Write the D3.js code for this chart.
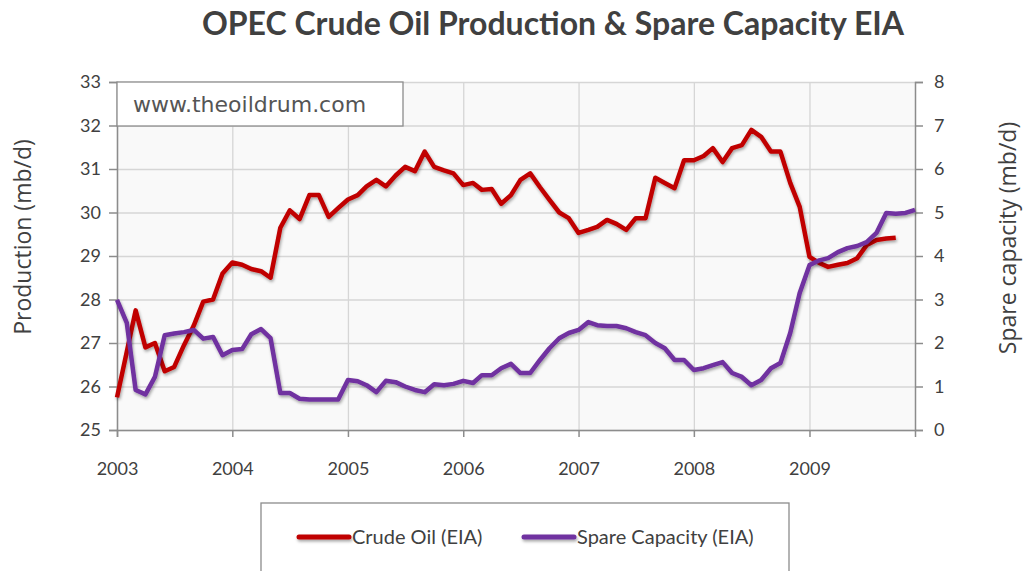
<!DOCTYPE html>
<html>
<head>
<meta charset="utf-8">
<script src="https://cdn.jsdelivr.net/npm/d3@7"></script>
<style>
  body { margin: 0; background: #fff; }
  svg text { font-family: Lato, "Open Sans", sans-serif; fill: #404040; }
</style>
</head>
<body>
<div id="chart"></div>
<script>
// monthly OPEC data, Jan 2003 onwards (mb/d)
var startMonth = new Date(2003, 0, 1);
var crudeOil = [25.75, 26.8, 27.75, 26.9, 27.0, 26.35, 26.45, 26.95, 27.4, 27.95, 28.0, 28.6,
    28.85, 28.8, 28.7, 28.65, 28.5, 29.65, 30.05, 29.85, 30.4, 30.4, 29.9, 30.1,
    30.3, 30.4, 30.6, 30.75, 30.6, 30.85, 31.05, 30.95, 31.4, 31.05, 30.97, 30.9,
    30.63, 30.68, 30.52, 30.54, 30.2, 30.4, 30.75, 30.9, 30.58, 30.29, 30.0, 29.87,
    29.53, 29.6, 29.67, 29.83, 29.74, 29.6, 29.87, 29.87, 30.8, 30.68, 30.56, 31.2,
    31.2, 31.3, 31.48, 31.16, 31.48, 31.55, 31.9, 31.74, 31.4, 31.4, 30.68, 30.13,
    28.98, 28.84, 28.75, 28.8, 28.84, 28.95, 29.25, 29.37, 29.4, 29.42];
var spareCapacity = [2.99, 2.46, 0.92, 0.82, 1.22, 2.18, 2.22, 2.25, 2.3, 2.1, 2.14, 1.72,
    1.84, 1.86, 2.2, 2.32, 2.11, 0.85, 0.85, 0.72, 0.7, 0.7, 0.7, 0.7,
    1.15, 1.12, 1.03, 0.87, 1.13, 1.1, 1.0, 0.92, 0.87, 1.05, 1.03, 1.06,
    1.13, 1.08, 1.26, 1.26, 1.42, 1.52, 1.31, 1.31, 1.61, 1.88, 2.11, 2.23,
    2.3, 2.48, 2.41, 2.39, 2.39, 2.34, 2.25, 2.18, 2.0, 1.88, 1.61, 1.61,
    1.38, 1.42, 1.49, 1.56, 1.31, 1.22, 1.03, 1.15, 1.42, 1.54, 2.23, 3.15,
    3.79, 3.9, 3.95, 4.09, 4.18, 4.23, 4.32, 4.53, 4.99, 4.97, 4.99, 5.06];
var yearLabels = [2003, 2004, 2005, 2006, 2007, 2008, 2009];
var productionTicks = [25, 26, 27, 28, 29, 30, 31, 32, 33];
var spareTicks = [0, 1, 2, 3, 4, 5, 6, 7, 8];
var seriesNames = ["Crude Oil (EIA)", "Spare Capacity (EIA)"];
var seriesColors = ["#c00000", "#7030a0"];

var width = 1027, height = 571;
var m = {left: 117, top: 82, right: 112, bottom: 141};
var pw = width - m.left - m.right, ph = height - m.top - m.bottom;

function monthDate(i) { return d3.timeMonth.offset(startMonth, i); }

// squeeze text to a measured width if the fallback font runs wider
function fitText(t, w) {
    if (t.node().getComputedTextLength() > w) t.attr("textLength", w).attr("lengthAdjust", "spacingAndGlyphs");
}

var svg = d3.select("#chart").append("svg").attr("width", width).attr("height", height);

var defs = svg.append("defs");
var shadow = defs.append("filter").attr("id", "shadow").attr("filterUnits", "userSpaceOnUse")
    .attr("x", -200).attr("y", -200).attr("width", 1400).attr("height", 900);
shadow.append("feDropShadow").attr("dx", 1).attr("dy", 2).attr("stdDeviation", 1.6)
    .attr("flood-color", "#000").attr("flood-opacity", 0.35);

var x = d3.scaleTime().domain([startMonth, monthDate(spareCapacity.length - 1)]).range([0, pw]);
var yL = d3.scaleLinear().domain([25, 33]).range([ph, 0]);
var yR = d3.scaleLinear().domain([0, 8]).range([ph, 0]);
var yearDates = yearLabels.map(function (y) { return new Date(y, 0, 1); });

// title
var title = svg.append("text").attr("x", 553).attr("y", 35).attr("text-anchor", "middle")
    .style("font-size", "32px").style("font-weight", "bold")
    .text("OPEC Crude Oil Production & Spare Capacity EIA");
fitText(title, 704);

var g = svg.append("g").attr("transform", "translate(" + m.left + "," + m.top + ")");

g.append("rect").attr("width", pw).attr("height", ph).attr("fill", "#f9f9f9");

// gridlines
g.append("g").attr("class", "grid")
    .call(d3.axisLeft(yL).tickValues(productionTicks).tickSize(-pw).tickFormat(""));
g.append("g").attr("class", "grid").attr("transform", "translate(0," + ph + ")")
    .call(d3.axisBottom(x).tickValues(yearDates).tickSize(-ph).tickFormat(""));
g.selectAll(".grid .domain").remove();
g.selectAll(".grid line").attr("stroke", "#d6d6d6").attr("stroke-width", 1.3);

// axes
var left = g.append("g").call(d3.axisLeft(yL).tickValues(productionTicks).tickSize(8).tickPadding(8));
var right = g.append("g").attr("transform", "translate(" + pw + ",0)")
    .call(d3.axisRight(yR).tickValues(spareTicks).tickSize(8).tickPadding(11));
var bottom = g.append("g").attr("transform", "translate(0," + ph + ")")
    .call(d3.axisBottom(x).tickValues(yearDates).tickSize(7).tickPadding(25).tickFormat(d3.timeFormat("%Y")));
[left, right, bottom].forEach(function (a) {
    a.select(".domain").attr("stroke", "#8c8c8c").attr("stroke-width", 1.5);
    a.selectAll(".tick line").attr("stroke", "#8c8c8c").attr("stroke-width", 1.5);
    a.selectAll(".tick text").style("font-size", "18px").attr("fill", "#404040");
});

// lines
var crudeLine = d3.line().x(function (d, i) { return x(monthDate(i)); }).y(function (d) { return yL(d); });
var spareLine = d3.line().x(function (d, i) { return x(monthDate(i)); }).y(function (d) { return yR(d); });

g.append("path").datum(crudeOil).attr("d", crudeLine).attr("fill", "none")
    .attr("stroke", seriesColors[0]).attr("stroke-width", 4.5).attr("stroke-linejoin", "round")
    .attr("filter", "url(#shadow)");
g.append("path").datum(spareCapacity).attr("d", spareLine).attr("fill", "none")
    .attr("stroke", seriesColors[1]).attr("stroke-width", 4.5).attr("stroke-linejoin", "round")
    .attr("filter", "url(#shadow)");

// watermark box
g.append("rect").attr("x", 0).attr("y", 0).attr("width", 286).attr("height", 44)
    .attr("fill", "#fff").attr("stroke", "#8c8c8c").attr("stroke-width", 1.3);
var wm = g.append("text").attr("x", 16).attr("y", 30)
    .style("font-family", "'DejaVu Sans', Verdana, sans-serif").style("font-size", "22px")
    .style("fill", "#555")
    .text("www.theoildrum.com");
fitText(wm, 245);

// axis titles
var yt1 = svg.append("text").attr("transform", "translate(31,237) rotate(-90)").attr("text-anchor", "middle")
    .style("font-family", "'Open Sans', sans-serif").style("font-size", "23px").text("Production (mb/d)");
fitText(yt1, 225);
var yt2 = svg.append("text").attr("transform", "translate(1016,238) rotate(-90)").attr("text-anchor", "middle")
    .style("font-family", "'Open Sans', sans-serif").style("font-size", "23px").text("Spare capacity (mb/d)");
fitText(yt2, 266);

// legend
var lg = svg.append("g").attr("transform", "translate(261,503)");
lg.append("rect").attr("width", 528).attr("height", 90).attr("fill", "#fff")
    .attr("stroke", "#8c8c8c").attr("stroke-width", 1.3);
var itemX = [38, 263];
seriesNames.forEach(function (name, i) {
    lg.append("line").attr("x1", itemX[i]).attr("x2", itemX[i] + 50).attr("y1", 34).attr("y2", 34)
        .attr("stroke", seriesColors[i]).attr("stroke-width", 5).attr("stroke-linecap", "round")
        .attr("filter", "url(#shadow)");
    lg.append("text").attr("x", itemX[i] + 53).attr("y", 41).style("font-size", "20px").text(name);
});
</script>
</body>
</html>
